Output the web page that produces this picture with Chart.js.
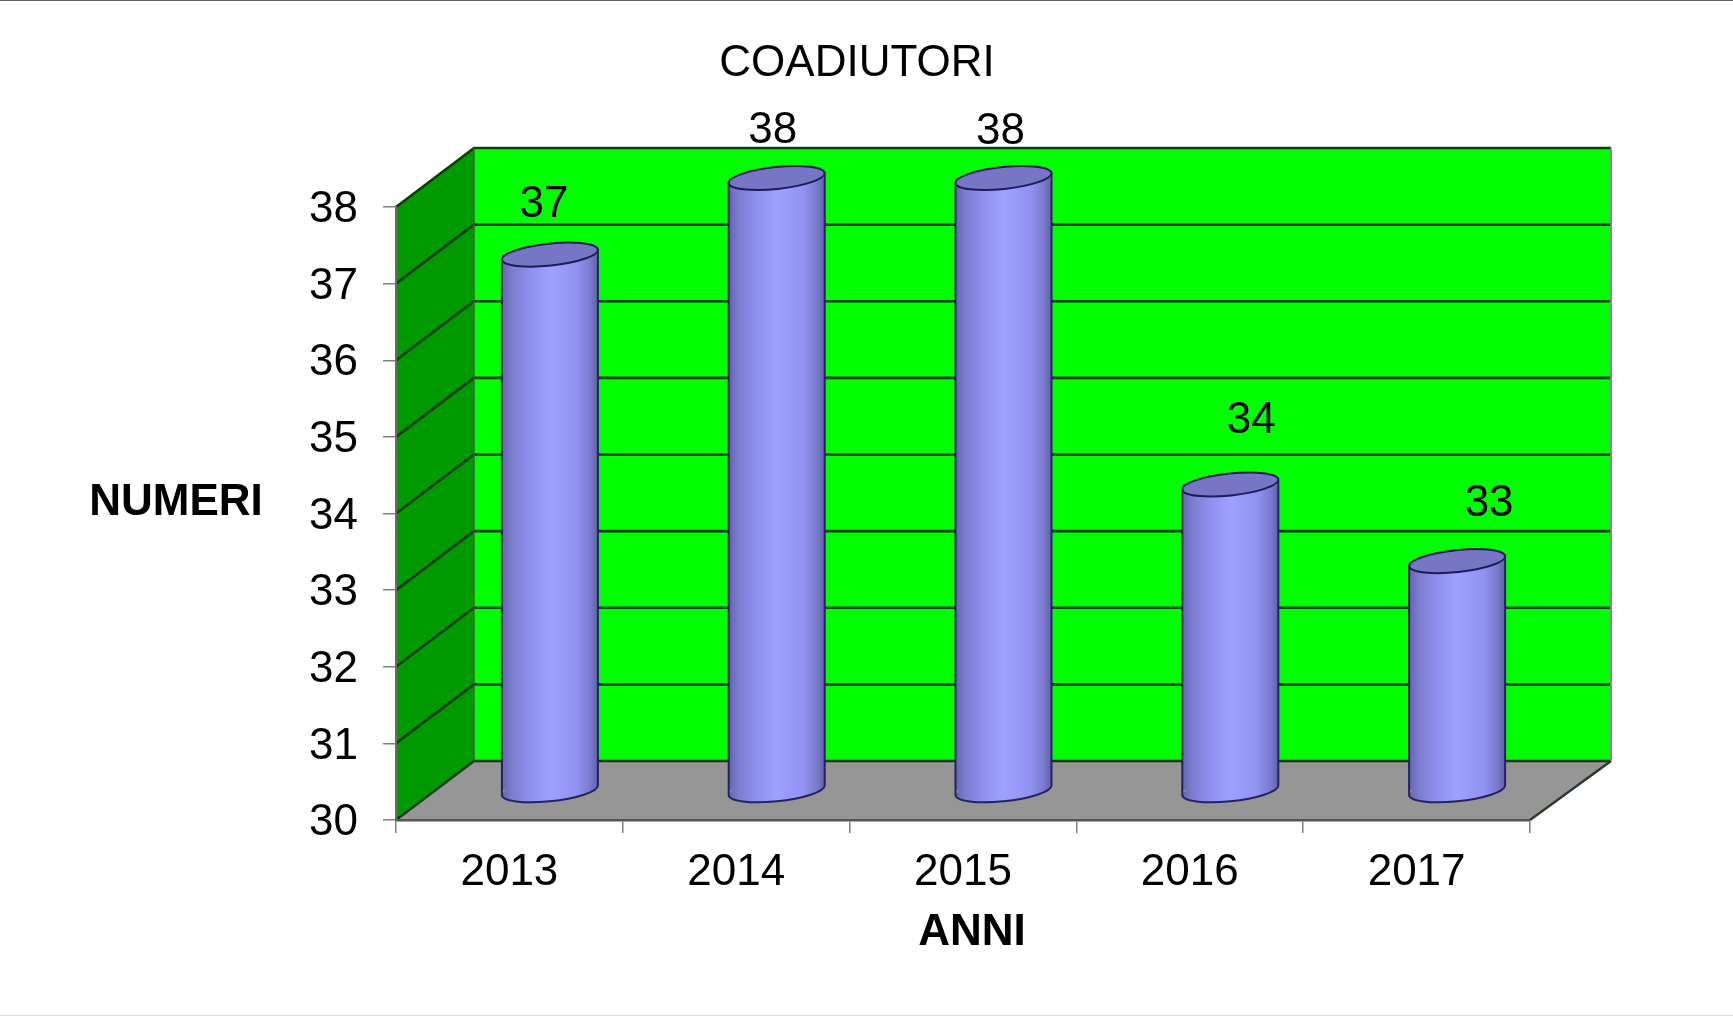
<!DOCTYPE html>
<html><head><meta charset="utf-8">
<style>
html,body{margin:0;padding:0;background:#fff;width:1733px;height:1016px;overflow:hidden}
#c{position:absolute;left:0;top:0}
#t{position:absolute;left:0;top:0;width:1733px;height:1px;background:#5f5f5f}
#b{position:absolute;left:0;bottom:0;width:1733px;height:1px;background:#dcdcdc}
</style>
<script src="https://cdn.jsdelivr.net/npm/chart.js@4"></script>
</head><body>
<canvas id="c" width="1714" height="1016"></canvas><div id="t"></div><div id="b"></div>
<script>
const years = ['2013','2014','2015','2016','2017'];
const values = [37,38,38,34,33];
const yTicks = [30,31,32,33,34,35,36,37,38];
const chartTitle = 'COADIUTORI';
const xTitle = 'ANNI';
const yTitle = 'NUMERI';

const FONT = '"Liberation Sans", Arial, sans-serif';
const DX = 78, DY = -59, BACK_EXTRA = 3;
const SHIFT_X = 40.5, SHIFT_Y = -29;
const TH = -6*Math.PI/180, B = 11;
const LABEL_OFFSET = [[-6,-49.5],[-4,-47.5],[-3,-46.5],[21,-63.5],[32,-57.5]];

function barGradient(ctx,p,w){
  const g=ctx.createLinearGradient(p-w,0,p+w,0);
  g.addColorStop(0,'#6464ae');g.addColorStop(.1,'#7c7cd0');g.addColorStop(.3,'#9090f0');g.addColorStop(.5,'#a0a0ff');
  g.addColorStop(.78,'#9292f2');g.addColorStop(.92,'#7a7ace');g.addColorStop(1,'#6060a8');
  return g;
}
function cylGeom(el){
  const hw = el.width/2;
  const a = Math.sqrt((hw*hw - B*B*Math.sin(TH)**2)/Math.cos(TH)**2);
  const t0 = Math.atan2(-B*Math.sin(TH), a*Math.cos(TH));
  return {cx:el.x+SHIFT_X, top:el.y+SHIFT_Y, base:el.base+SHIFT_Y, a, t0, hw,
    ey:a*Math.cos(t0)*Math.sin(TH)+B*Math.sin(t0)*Math.cos(TH)};
}
const scene = {
  id:'scene',
  beforeDraw(chart){
    const {ctx, scales:{x,y}} = chart;
    const L=x.left,R=x.right,T=y.getPixelForValue(yTicks[yTicks.length-1]),Bo=y.getPixelForValue(yTicks[0]);
    const BR=R+DX+BACK_EXTRA;
    ctx.save();
    ctx.fillStyle='#00ff00'; ctx.fillRect(L+DX,T+DY,BR-L-DX,Bo-T);
    ctx.fillStyle='#009900';
    ctx.beginPath();ctx.moveTo(L,T);ctx.lineTo(L+DX,T+DY);ctx.lineTo(L+DX,Bo+DY);ctx.lineTo(L,Bo);ctx.closePath();ctx.fill();
    ctx.fillStyle='#969696';
    ctx.beginPath();ctx.moveTo(L,Bo);ctx.lineTo(R,Bo);ctx.lineTo(BR,Bo+DY);ctx.lineTo(L+DX,Bo+DY);ctx.closePath();ctx.fill();
    ctx.strokeStyle='#0b3d0b';ctx.lineWidth=2.6;
    yTicks.forEach(v=>{
      const p=y.getPixelForValue(v);
      ctx.beginPath();ctx.moveTo(L,p);ctx.lineTo(L+DX,p+DY);ctx.lineTo(BR,p+DY);ctx.stroke();
    });
    ctx.strokeStyle='#2a3a2a';ctx.lineWidth=2.4;
    ctx.beginPath();ctx.moveTo(R,Bo);ctx.lineTo(BR,Bo+DY);ctx.stroke();
    ctx.strokeStyle='#8a8a8a';ctx.lineWidth=2;
    ctx.beginPath();ctx.moveTo(BR,T+DY);ctx.lineTo(BR,Bo+DY);ctx.stroke();
    ctx.strokeStyle='#3c5c3c';ctx.lineWidth=1.5;
    ctx.beginPath();ctx.moveTo(L+DX,T+DY);ctx.lineTo(L+DX,Bo+DY);ctx.stroke();
    ctx.restore();
  },
  beforeDatasetDraw(chart,args){
    const {ctx}=chart;
    // rounded foot of each cylinder, below the bar itself
    args.meta.data.forEach(el=>{
      const g=cylGeom(el);
      ctx.beginPath();
      ctx.ellipse(g.cx,g.base,g.a,B,TH,0,2*Math.PI);
      ctx.fillStyle=barGradient(ctx,g.cx,g.hw);
      ctx.fill();
    });
    ctx.save();
    ctx.beginPath();
    args.meta.data.forEach(el=>{
      const g=cylGeom(el);
      ctx.moveTo(g.cx-g.hw,g.top-40);
      ctx.lineTo(g.cx+g.hw,g.top-40);
      ctx.lineTo(g.cx+g.hw,g.base+g.ey);
      ctx.ellipse(g.cx,g.base,g.a,B,TH,g.t0,g.t0+Math.PI);
      ctx.closePath();
    });
    ctx.clip();
    ctx.translate(SHIFT_X,SHIFT_Y);
  },
  afterDatasetDraw(chart,args){
    const {ctx}=chart;
    ctx.restore();
    ctx.save();
    args.meta.data.forEach(el=>{
      const g=cylGeom(el);
      ctx.strokeStyle='#23235e';ctx.lineWidth=2;
      ctx.beginPath();
      ctx.moveTo(g.cx+g.hw,g.top+g.ey);
      ctx.lineTo(g.cx+g.hw,g.base+g.ey);
      ctx.ellipse(g.cx,g.base,g.a,B,TH,g.t0,g.t0+Math.PI);
      ctx.lineTo(g.cx-g.hw,g.top-g.ey);
      ctx.stroke();
      ctx.beginPath();
      ctx.ellipse(g.cx,g.top,g.a,B,TH,0,2*Math.PI);
      ctx.fillStyle='#7676c4';ctx.fill();
      ctx.strokeStyle='#1c1c58';ctx.lineWidth=2;ctx.stroke();
    });
    ctx.restore();
  },
  afterDraw(chart){
    const {ctx}=chart;
    ctx.save();
    ctx.fillStyle='#000';ctx.textAlign='center';ctx.textBaseline='middle';
    ctx.font='44px '+FONT;
    chart.getDatasetMeta(0).data.forEach((el,i)=>{
      const g=cylGeom(el);
      ctx.fillText(String(values[i]),g.cx+LABEL_OFFSET[i][0],g.top+LABEL_OFFSET[i][1]);
    });
    ctx.font='bold 44px '+FONT;
    ctx.fillText(xTitle,972,933);
    ctx.fillText(yTitle,176,503);
    ctx.restore();
  }
};
const chart = new Chart(document.getElementById('c'),{
  type:'bar',
  data:{labels:years,datasets:[{
    label:chartTitle,data:values,base:yTicks[0],clip:false,borderWidth:0,
    categoryPercentage:1,barPercentage:0.4233,
    backgroundColor(c){
      if(c.dataIndex===undefined) return '#9999ff';
      const p=c.chart.scales.x.getPixelForValue(c.dataIndex);
      if(!Number.isFinite(p)) return '#9999ff';
      return barGradient(c.chart.ctx,p,48);
    }
  }]},
  options:{
    responsive:false,animation:false,devicePixelRatio:1,
    layout:{padding:{left:184,top:0,right:184,bottom:0}},
    plugins:{
      legend:{display:false},tooltip:{enabled:false},
      title:{display:true,text:chartTitle,color:'#000',font:{family:FONT,size:44,weight:'normal',lineHeight:1.2},padding:{top:37,bottom:117.2}}
    },
    scales:{
      x:{
        afterFit(s){s.height=196;},
        grid:{drawOnChartArea:false,tickLength:13,tickColor:'#808080',lineWidth:1.5},
        border:{color:'#555',width:2.5},
        ticks:{color:'#000',font:{family:FONT,size:44,lineHeight:1.2},padding:13.6,maxRotation:0,autoSkip:false}
      },
      y:{
        min:yTicks[0],max:yTicks[yTicks.length-1],
        afterFit(s){s.width=212;},
        afterBuildTicks(s){s.ticks=yTicks.map(v=>({value:v}));},
        grid:{drawOnChartArea:false,tickLength:13,tickColor:'#808080',lineWidth:1.5},
        border:{color:'#6a6a6a',width:2},
        ticks:{color:'#000',font:{family:FONT,size:44,lineHeight:1.2},padding:25,labelOffset:3,autoSkip:false}
      }
    }
  },
  plugins:[scene]
});
chart.update();
</script>
</body></html>
